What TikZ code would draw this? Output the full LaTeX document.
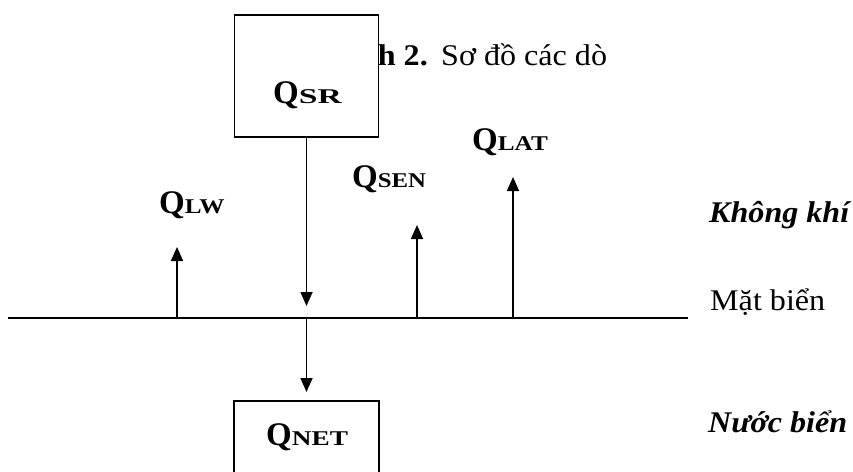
\documentclass[tikz,border=0pt]{standalone}
\usepackage{fontspec}
\setmainfont{Liberation Serif}
\usetikzlibrary{arrows.meta}
\newcommand\SX[1]{\scalebox{1.07}[1]{#1}}
\newcommand\QL[2]{{\fontsize{33}{33}\selectfont\bfseries Q}\scalebox{#2}[1]{\fontsize{21}{21}\selectfont\bfseries #1}}
\begin{document}
\begin{tikzpicture}[x=1pt,y=-1pt,
  lbl/.style={inner sep=0pt, anchor=base west},
  fbox/.style={draw, line width=1.6pt, fill=white, inner sep=0pt},
  flow/.style={line width=1.6pt, -{Triangle[width=12pt,length=14pt]}},
  txt/.style={inner sep=0pt, anchor=base west, font=\fontsize{30}{30}\selectfont},
]
\useasboundingbox (0,0) rectangle (853,471);
% caption partly hidden by the box
\node[txt, anchor=base east] (cap1) at (428,65) {\SX{\bfseries Hình 2.}};
\node[txt] (cap2) at (441,65) {\SX{Sơ đồ các dò}};
% top box
\node[fbox, minimum width=144, minimum height=122] (sr) at (306.5,76) {};
\node[lbl] (srl) at (273,103) {\QL{SR}{1.6}};
% sea surface line
\coordinate (L) at (8,318);
\coordinate (R) at (688,318);
\draw[line width=1.8pt] (L) -- (R);
% bottom box
\node[fbox, minimum width=145, minimum height=100, anchor=north] (net) at (306.5,400) {};
\node[lbl] (netl) at (266,445) {\QL{NET}{1.3}};
% flows
\coordinate (srend) at (306.5,318);
\draw[flow, shorten >=12pt] (sr.south) -- (srend);
\draw[flow, shorten >=8pt] (srend) -- (net.north);
\coordinate (lw0) at (177,318);
\coordinate (lw1) at (177,247);
\draw[flow] (lw0) -- (lw1);
\coordinate (sen0) at (417,318);
\coordinate (sen1) at (417,225);
\draw[flow] (sen0) -- (sen1);
\coordinate (lat0) at (513,318);
\coordinate (lat1) at (513,177);
\draw[flow] (lat0) -- (lat1);
% labels
\node[lbl] (lwl) at (159,213) {\QL{LW}{1.2}};
\node[lbl] (senl) at (352,187) {\QL{SEN}{1.18}};
\node[lbl] (latl) at (472,150) {\QL{LAT}{1.2}};
% right texts
\node[txt] (air) at (709,222) {\SX{\bfseries\itshape Không khí}};
\node[txt] (surf) at (710,310) {\SX{Mặt biển}};
\node[txt] (sea) at (708,432) {\SX{\bfseries\itshape Nước biển}};
\end{tikzpicture}
\end{document}
